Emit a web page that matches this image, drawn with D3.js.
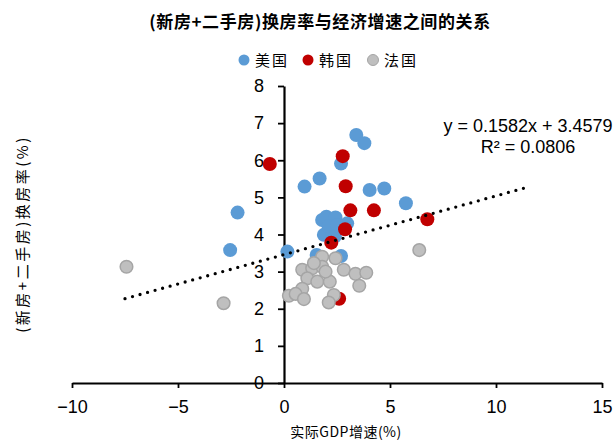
<!DOCTYPE html>
<html>
<head>
<meta charset="utf-8">
<script src="https://cdn.jsdelivr.net/npm/d3@7/dist/d3.min.js"></script>
<style>
  body { margin: 0; background: #fff; }
  svg { display: block; }
  .tick text { font-family: "Liberation Sans", Arial, sans-serif; font-size: 18px; fill: #000; }
  .cjk { font-family: "Noto Sans CJK SC", sans-serif; }
</style>
</head>
<body>
<div id="chart"></div>
<script>
// series values: [GDP growth %, turnover %]
const usPoints = [
  [3.41, 6.68], [3.79, 6.46], [2.69, 5.91], [0.97, 5.29], [1.68, 5.51],
  [4.04, 5.20], [4.73, 5.24], [5.75, 4.84], [-2.19, 4.59], [-2.54, 3.58],
  [0.16, 3.54], [1.80, 4.39], [2.00, 4.48], [2.43, 4.46], [2.98, 4.30],
  [1.88, 3.99], [2.23, 4.12], [2.10, 4.22], [2.50, 4.25], [2.40, 3.95],
  [1.54, 3.45], [2.69, 3.42]
];
const krPoints = [
  [-0.67, 5.90], [2.77, 6.11], [2.91, 5.30], [3.13, 4.65], [4.24, 4.65],
  [6.76, 4.41], [2.88, 4.14], [2.23, 3.78], [2.60, 2.27]
];
const frPoints = [
  [-7.43, 3.13], [-2.85, 2.15], [6.38, 3.58],
  [1.80, 3.40], [2.43, 3.36], [0.86, 3.05], [1.33, 3.09], [1.80, 3.13],
  [1.41, 3.23], [2.82, 3.05], [3.37, 2.94], [3.88, 2.97], [3.55, 2.62],
  [1.10, 2.82], [1.57, 2.73], [2.16, 2.73], [1.96, 3.00], [0.86, 2.54],
  [0.23, 2.35], [0.55, 2.40], [0.94, 2.26], [2.35, 2.37], [2.11, 2.17]
];
const seriesNames = ["美国", "韩国", "法国"];
const xTicks = [-10, -5, 0, 5, 10, 15];
const yTicks = [0, 1, 2, 3, 4, 5, 6, 7, 8];
const trend = { slope: 0.1582, intercept: 3.4579, r2: 0.0806, from: -7.5, to: 11.4 };

const width = 616, height = 441;
const colours = { "美国": "#5B9BD5", "韩国": "#C00000", "法国": "#BFBFBF" };

const svg = d3.select("#chart").append("svg")
  .attr("width", width).attr("height", height);

const x = d3.scaleLinear().domain([-10, 15]).range([72, 602]);
const y = d3.scaleLinear().domain([0, 8]).range([383, 86]);

// title
svg.append("text")
  .attr("class", "cjk")
  .attr("x", 320).attr("y", 28)
  .attr("text-anchor", "middle")
  .style("font-size", "17px").style("font-weight", "bold")
  .style("letter-spacing", "0.6px")
  .text("(新房+二手房)换房率与经济增速之间的关系");

// legend
const legendX = [244, 308, 373];
const legend = svg.append("g").attr("transform", "translate(0,60)");
seriesNames.forEach((name, i) => {
  const g = legend.append("g").attr("transform", `translate(${legendX[i]},0)`);
  g.append("circle").attr("r", 5.5)
    .attr("fill", colours[name])
    .attr("stroke", name === "法国" ? "#A5A5A5" : "none");
  g.append("text").attr("class", "cjk")
    .attr("x", 11).attr("y", 5.5)
    .style("font-size", "15px")
    .style("letter-spacing", "2px")
    .text(name);
});

// axes (crossing at 0,0)
svg.append("g")
  .attr("transform", `translate(0,${y(0)})`)
  .call(d3.axisBottom(x).tickValues(xTicks).tickSizeInner(5).tickSizeOuter(0).tickPadding(12))
  .call(g => g.select(".domain").attr("stroke", "#000").attr("stroke-width", 2.2))
  .call(g => g.selectAll(".tick line").attr("stroke", "#000").attr("stroke-width", 1.8));

svg.append("g")
  .attr("transform", `translate(${x(0)},0)`)
  .call(d3.axisLeft(y).tickValues(yTicks).tickSizeInner(6).tickSizeOuter(0).tickPadding(14))
  .call(g => g.select(".domain").attr("stroke", "#000").attr("stroke-width", 2.2))
  .call(g => g.selectAll(".tick line").attr("stroke", "#000").attr("stroke-width", 1.8));

// axis titles
svg.append("text").attr("class", "cjk")
  .attr("x", 346).attr("y", 437)
  .attr("text-anchor", "middle")
  .style("font-size", "14px")
  .style("letter-spacing", "0.5px")
  .text("实际GDP增速(%)");

svg.append("text").attr("class", "cjk")
  .attr("transform", "translate(28,234) rotate(-90)")
  .attr("text-anchor", "middle")
  .style("font-size", "15px")
  .style("letter-spacing", "2.5px")
  .text("(新房+二手房)换房率(%)");

// points, drawn in series order
const series = [
  { name: "美国", points: usPoints },
  { name: "韩国", points: krPoints },
  { name: "法国", points: frPoints }
];
series.forEach(s => {
  const isFr = s.name === "法国";
  svg.append("g").selectAll("circle")
    .data(s.points)
    .enter()
    .append("circle")
    .attr("cx", d => x(d[0]))
    .attr("cy", d => y(d[1]))
    .attr("r", isFr ? 6.3 : 7)
    .attr("fill", colours[s.name])
    .attr("stroke", isFr ? "#A5A5A5" : "none")
    .attr("stroke-width", 1.5);
});

// linear trend line (dotted)
const lineData = [trend.from, trend.to].map(v => [v, trend.slope * v + trend.intercept]);
svg.append("path")
  .datum(lineData)
  .attr("d", d3.line().x(d => x(d[0])).y(d => y(d[1])))
  .attr("fill", "none")
  .attr("stroke", "#000")
  .attr("stroke-width", 3.3)
  .attr("stroke-linecap", "round")
  .attr("stroke-dasharray", "0 7.8");

// equation label
const eq = svg.append("text")
  .attr("y", 132)
  .attr("text-anchor", "middle")
  .style("font-family", "'Liberation Sans', Arial, sans-serif")
  .style("font-size", "18px");
eq.append("tspan").attr("x", 528).text(`y = ${trend.slope}x + ${trend.intercept}`);
eq.append("tspan").attr("x", 528).attr("dy", 21).text(`R² = ${trend.r2}`);
</script>
</body>
</html>
